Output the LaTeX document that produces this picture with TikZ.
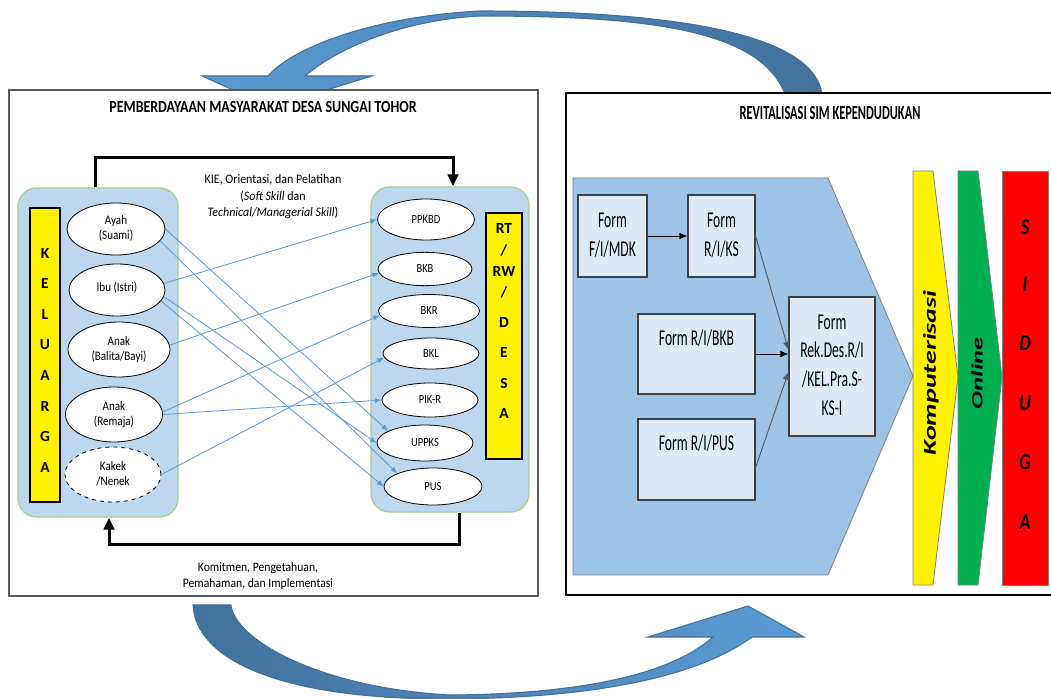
\documentclass[tikz,border=0pt]{standalone}
\usepackage{fontspec}
\setmainfont{Carlito}
\usepackage{graphicx}
\usetikzlibrary{arrows.meta,shapes.geometric,calc}
\definecolor{grpfill}{HTML}{BDD7EE}
\definecolor{grpline}{HTML}{A9D18E}
\definecolor{connblue}{HTML}{5B9BD5}
\definecolor{pentfill}{HTML}{9DC3E6}
\definecolor{formfill}{HTML}{DEEBF7}
\definecolor{formline}{HTML}{404040}
\definecolor{arrlight}{HTML}{5B9BD5}
\definecolor{arrdark}{HTML}{41719C}
\definecolor{chgreen}{HTML}{00B050}
\definecolor{panelgray}{HTML}{595959}
\newcommand\sqz[2]{\scalebox{#1}[1]{#2}}
\newcommand\stk[1]{\begin{tabular}{@{}c@{}}#1\end{tabular}}
\begin{document}
\begin{tikzpicture}[x=0.75pt,y=-0.75pt,
  grp/.style={draw=grpline, fill=grpfill, line width=1pt, rounded corners=14pt, inner sep=0pt},
  ybar/.style={draw=black, fill=yellow, line width=0.8pt, inner sep=0pt},
  ell/.style={ellipse, draw=black, fill=white, line width=0.6pt, inner sep=0pt, font=\fontsize{9.75}{11.25}\selectfont},
  rell/.style={ellipse, draw=black, fill=white, line width=0.6pt, inner sep=0pt, font=\fontsize{9.3}{11}\selectfont},
  ltr/.style={inner sep=0pt, font=\fontsize{11.6}{13}\selectfont\bfseries},
  cn/.style={draw=connblue, line width=0.6pt, -{Latex[length=5pt,width=4pt]}},
  blk/.style={draw=black, line width=2.25pt, -{Triangle[length=9pt,width=8pt]}},
  form/.style={draw=formline, fill=formfill, line width=0.8pt, inner sep=0pt, font=\fontsize{17}{21.5}\selectfont},
  farr/.style={line width=0.7pt, -{Latex[length=6pt,width=5pt]}},
  small/.style={inner sep=0pt, font=\fontsize{9.75}{12.4}\selectfont},
  chev/.style={draw=gray, line width=0.6pt},
  rot/.style={inner sep=0pt, rotate=90, font=\fontsize{21}{24}\selectfont\bfseries\itshape},
  sid/.style={inner sep=0pt, font=\fontsize{17}{19}\selectfont\bfseries\itshape}
]
\useasboundingbox (0,0) rectangle (1051,699);
\fill[white] (0,0) rectangle (1051,699);

% big curved arrows
\path[left color=arrlight, right color=arrdark, draw=arrdark, line width=0.8pt]
  (268,76) .. controls (295,45) and (380,16) .. (480,11)
  .. controls (720,11) and (815,45) .. (822,94)
  -- (785,94) .. controls (760,30) and (650,16) .. (480,16)
  .. controls (400,20) and (335,50) .. (305,76)
  -- (372,76) -- (271,107) -- (202,76) -- cycle;
\path[left color=arrdark, right color=arrlight, draw=arrdark, line width=0.8pt]
  (193,605) .. controls (196,660) and (280,698) .. (440,699)
  .. controls (600,699) and (700,675) .. (752,637)
  -- (804,637) -- (748,606) -- (648,637) -- (713,637)
  .. controls (670,675) and (580,694) .. (450,695)
  .. controls (320,688) and (235,640) .. (231,605) -- cycle;

% panels
\node[draw=panelgray, fill=white, line width=1.5pt, minimum width=396.75pt, minimum height=379.5pt, inner sep=0pt] (lpanel) at (273.5,343) {};
\node[draw=black, fill=white, line width=2pt, minimum width=370.5pt, minimum height=376.5pt, inner sep=0pt] (rpanel) at (813,344) {};

\node[inner sep=0pt, font=\fontsize{12.75}{15}\selectfont\bfseries] (ltitle) at (263,107) {\sqz{0.82}{PEMBERDAYAAN MASYARAKAT DESA SUNGAI TOHOR}};
\node[inner sep=0pt, font=\fontsize{15}{18}\selectfont\bfseries] (rtitle) at (830,113) {\sqz{0.62}{REVITALISASI SIM KEPENDUDUKAN}};

% left panel groups
\node[grp, minimum width=120pt, minimum height=246.75pt] (lbox) at (98,352.5) {};
\node[grp, minimum width=118.5pt, minimum height=243.75pt] (rbox) at (450,349.5) {};

\node[ybar, minimum width=22.5pt, minimum height=220.5pt] (kbar) at (45,355) {};
\foreach \l [count=\i] in {K,E,L,U,A,R,G,A}
  \node[ltr] (kl\i) at (45,{253+30.6*(\i-1)}) {\l};
\node[ybar, minimum width=27pt, minimum height=184.5pt] (rbar) at (504,336) {};
\node[ltr] (r1) at (504,228) {RT};
\node[ltr] (r2) at (504,250) {/};
\node[ltr] (r3) at (504,271) {RW};
\node[ltr] (r4) at (504,292) {/};
\node[ltr] (r5) at (504,322) {D};
\node[ltr] (r6) at (504,352) {E};
\node[ltr] (r7) at (504,383) {S};
\node[ltr] (r8) at (504,413) {A};

\node[ell, minimum width=73.5pt, minimum height=39pt] (ayah) at (116,229) {\sqz{0.85}{\stk{Ayah\\(Suami)}}};
\node[ell, minimum width=72pt, minimum height=39pt] (ibu) at (117,290) {\raisebox{5pt}{\sqz{0.85}{Ibu (Istri)}}};
\node[ell, minimum width=76.5pt, minimum height=41.25pt] (balita) at (119,349.5) {\sqz{0.85}{\stk{Anak\\(Balita/Bayi)}}};
\node[ell, minimum width=72.75pt, minimum height=41.25pt] (remaja) at (114,414.5) {\sqz{0.85}{\stk{Anak\\(Remaja)}}};
\node[ell, dashed, minimum width=72pt, minimum height=41.25pt] (kakek) at (113,474.5) {\sqz{0.85}{\stk{Kakek\\/Nenek}}};

\node[rell, minimum width=72.75pt, minimum height=30.75pt] (ppkbd) at (426,219.5) {\sqz{0.85}{PPKBD}};
\node[rell, minimum width=70.5pt, minimum height=25pt] (bkb) at (425,269) {\sqz{0.85}{BKB}};
\node[rell, minimum width=75.75pt, minimum height=24.75pt] (bkr) at (429,311) {\sqz{0.85}{BKR}};
\node[rell, minimum width=72pt, minimum height=23.25pt] (bkl) at (431,353.5) {\sqz{0.85}{BKL}};
\node[rell, minimum width=72pt, minimum height=25.5pt] (pikr) at (430,400) {\sqz{0.85}{PIK-R}};
\node[rell, minimum width=72pt, minimum height=27pt] (uppks) at (425,443) {\sqz{0.85}{UPPKS}};
\node[rell, minimum width=73.5pt, minimum height=27.75pt] (pus) at (433,486.5) {\sqz{0.85}{PUS}};

\draw[cn] (ayah.0) -- (uppks.162);
\draw[cn] (ayah.-15) -- (pus.160);
\draw[cn] (ibu.-8) -- (uppks.180);
\draw[cn] (ibu.-14) -- (pus.180);
\draw[cn] (ibu.8) -- (ppkbd.180);
\draw[cn] (balita.5) -- (bkb.185);
\draw[cn] (remaja.3) -- (bkr.185);
\draw[cn] (remaja.0) -- (pikr.180);
\draw[cn] (kakek.0) -- (bkl.185);

\coordinate (kieL) at (95,158);
\coordinate (kieR) at (453,158);
\draw[blk] (lbox.north -| kieL) -- (kieL) -- (kieR) -- (rbox.north -| kieR);
\coordinate (kbR) at (459,544);
\coordinate (kbL) at (109,544);
\draw[blk] (rbox.south -| kbR) -- (kbR) -- (kbL) -- (lbox.south -| kbL);

\node[small] (kie) at (273,197) {\sqz{0.92}{\stk{KIE, Orientasi, dan Pelatihan\\(\textit{Soft Skill} dan\\\textit{Technical/Managerial Skill})}}};
\node[small] (kom) at (258,576) {\sqz{0.9}{\stk{Komitmen, Pengetahuan,\\Pemahaman, dan Implementasi}}};

% right panel
\draw[draw=gray, fill=pentfill, line width=0.6pt] (573,178) -- (828,178) -- (913,376) -- (828,575) -- (573,575) -- cycle;
\node[form, minimum width=51.75pt, minimum height=61.5pt] (fmdk) at (612.5,236) {\sqz{0.6}{\stk{Form\\F/I/MDK}}};
\node[form, minimum width=50.25pt, minimum height=61.5pt] (fks) at (721.5,236) {\sqz{0.6}{\stk{Form\\R/I/KS}}};
\node[form, minimum width=87.75pt, minimum height=60pt] (fbkb) at (696.5,354) {\sqz{0.6}{\stk{Form R/I/BKB\\~}}};
\node[form, minimum width=87.75pt, minimum height=60.75pt] (fpus) at (696.5,459.5) {\sqz{0.6}{\stk{Form R/I/PUS\\~}}};
\node[form, minimum width=64.5pt, minimum height=104.25pt] (frek) at (832,366.5) {\sqz{0.6}{\stk{Form\\Rek.Des.R/I\\/KEL.Pra.S-\\KS-I}}};

\draw[farr] (fmdk) -- (fks);
\draw[farr, draw=gray!70!black] (fks.east) -- (frek.159);
\draw[farr] (fbkb) -- (fbkb -| frek.west);
\draw[farr, draw=gray!70!black] (fpus.-8) -- (frek.187);

\draw[chev, fill=yellow] (913,171) -- (933,171) -- (958,377) -- (933,585) -- (913,585) -- cycle;
\draw[chev, fill=chgreen] (958,171) -- (978,171) -- (1002,377) -- (978,585) -- (958,585) -- cycle;
\draw[chev, fill=red] (1002,171) rectangle (1048,585);
\node[rot] (komp) at (931,373) {\scalebox{1}[0.65]{Komputerisasi}};
\node[rot, font=\fontsize{20}{24}\selectfont\bfseries\itshape] (onl) at (977,373) {\scalebox{1}[0.6]{Online}};
\foreach \l/\yy [count=\i] in {S/227,I/284,D/343,U/403,G/462,A/522}
  \node[sid] (sg\i) at (1025,\yy) {\sqz{0.8}{\l}};
\end{tikzpicture}
\end{document}
